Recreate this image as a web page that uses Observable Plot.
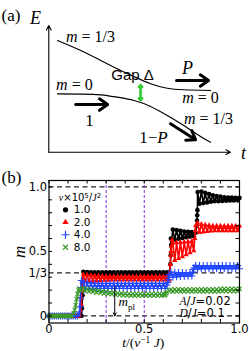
<!DOCTYPE html>
<html><head><meta charset="utf-8">
<script src="https://cdn.jsdelivr.net/npm/d3@7"></script>
<script src="https://cdn.jsdelivr.net/npm/@observablehq/plot@0.6"></script>
<style>body{margin:0;background:#fff;width:249px;height:351px;overflow:hidden}svg{display:block}</style>
</head><body><div id="chart"></div><script>
const SERIF = "Liberation Serif, DejaVu Serif, serif";
const SANS = "DejaVu Sans, sans-serif";

// ---------- Panel (a): schematic ----------
const upperCurve = [[0.48,8.82],[1.76,8.03],[2.86,7.24],[3.96,6.45],[4.69,5.97],[5.60,5.40],[6.52,5.05],[7.42,4.93],[8.90,4.87]];
const lowerCurve = [[0.48,4.61],[1.76,4.59],[2.86,4.53],[3.77,4.34],[4.69,4.08],[5.60,3.61],[6.52,2.90],[7.43,2.11],[8.35,1.24],[8.90,0.79]];
const axisArrows = [{x1:0,y1:0,x2:0,y2:10},{x1:0,y1:0,x2:10,y2:0}];
const processArrows = [{x1:7.03,y1:5.66,x2:8.79,y2:5.66},{x1:1.48,y1:3.76,x2:3.24,y2:3.76},{x1:6.70,y1:2.24,x2:8.08,y2:0.98}];
const gapArrow = [{x1:5.05,y1:4.70,x2:5.05,y2:5.30},{x1:5.05,y1:4.70,x2:5.05,y2:4.10}];
const schematicLabels = [
  {text:"(a)", x:-2.6, y:10.79, anchor:"start", size:17},
  {text:"*E*", x:-0.73, y:10.55, anchor:"middle", size:18},
  {text:"*t*", x:10.72, y:-0.10, anchor:"middle", size:18},
  {text:"*m* = 1/3", x:2.29, y:9.13, anchor:"middle", size:16},
  {text:"*m* = 0", x:1.41, y:5.34, anchor:"middle", size:16},
  {text:"*P*", x:7.63, y:6.61, anchor:"middle", size:18},
  {text:"*m* = 0", x:8.35, y:4.32, anchor:"middle", size:16},
  {text:"*m* = 1/3", x:8.79, y:2.66, anchor:"middle", size:16},
  {text:"1", x:2.24, y:2.50, anchor:"middle", size:17},
  {text:"1\u2212*P*", x:5.76, y:1.16, anchor:"middle", size:17}
];
const gapLabel = [{text:"Gap \u0394", x:4.61, y:6.05}];

// ---------- Panel (b): data ----------
const t = [
0.00,0.01,0.02,0.03,0.04,0.05,0.06,0.07,0.08,0.09,
0.10,0.11,0.12,0.13,0.14,0.15,0.16,0.17,0.18,0.19,
0.20,0.21,0.22,0.23,0.24,0.25,0.26,0.27,0.28,0.29,
0.30,0.31,0.32,0.33,0.34,0.35,0.36,0.37,0.38,0.39,
0.40,0.41,0.42,0.43,0.44,0.45,0.46,0.47,0.48,0.49,
0.50,0.51,0.52,0.53,0.54,0.55,0.56,0.57,0.58,0.59,
0.60,0.61,0.62,0.63,0.64,0.65,0.66,0.67,0.68,0.69,
0.70,0.71,0.72,0.73,0.74,0.75,0.76,0.77,0.78,0.79,
0.80,0.81,0.82,0.83,0.84,0.85,0.86,0.87,0.88,0.89,
0.90,0.91,0.92,0.93,0.94,0.95,0.96,0.97,0.98,0.99,
1.00];
const mV1 = [
0,0,0,0,0,0,0,0,0,0,
0,0,0,0,0,0,0,0,0.342,0.328,
0.340,0.326,0.338,0.326,0.338,0.326,0.338,0.326,0.338,0.326,
0.338,0.326,0.338,0.326,0.338,0.326,0.338,0.326,0.338,0.326,
0.338,0.326,0.338,0.326,0.338,0.326,0.338,0.326,0.338,0.326,
0.338,0.326,0.338,0.326,0.338,0.326,0.338,0.326,0.338,0.326,
0.338,0.326,0.338,0.326,0.600,0.670,0.590,0.665,0.598,0.660,
0.605,0.655,0.610,0.652,0.615,0.650,0.618,0.645,0.960,0.870,
0.965,0.875,0.955,0.880,0.945,0.885,0.935,0.890,0.930,0.890,
0.925,0.892,0.920,0.893,0.918,0.895,0.917,0.895,0.916,0.896,
0.915];
const mV2 = [
0,0,0,0,0,0,0,0,0,0,
0,0,0,0,0,0,0,0.140,0.320,0.265,
0.318,0.267,0.315,0.270,0.312,0.272,0.310,0.274,0.309,0.276,
0.308,0.277,0.306,0.279,0.306,0.279,0.306,0.279,0.306,0.279,
0.306,0.279,0.306,0.279,0.306,0.279,0.306,0.279,0.306,0.279,
0.306,0.279,0.306,0.279,0.306,0.279,0.306,0.279,0.306,0.279,
0.306,0.279,0.306,0.279,0.500,0.565,0.430,0.568,0.445,0.570,
0.460,0.573,0.475,0.576,0.490,0.580,0.505,0.700,0.722,0.648,
0.712,0.652,0.706,0.655,0.702,0.658,0.698,0.660,0.698,0.660,
0.698,0.660,0.698,0.660,0.698,0.660,0.698,0.660,0.698,0.660,
0.698];
const mV4 = [
0,0,0,0,0,0,0,0,0,0,
0,0,0,0,0,0,0.030,0.275,0.262,0.205,
0.258,0.208,0.255,0.210,0.252,0.213,0.252,0.213,0.252,0.213,
0.252,0.213,0.252,0.213,0.252,0.213,0.252,0.213,0.252,0.213,
0.252,0.213,0.252,0.213,0.252,0.213,0.252,0.213,0.252,0.213,
0.252,0.213,0.252,0.213,0.252,0.213,0.252,0.213,0.252,0.213,
0.252,0.213,0.240,0.318,0.340,0.300,0.338,0.303,0.337,0.305,
0.336,0.306,0.335,0.307,0.335,0.310,0.372,0.392,0.362,0.390,
0.366,0.390,0.366,0.390,0.366,0.390,0.366,0.390,0.366,0.390,
0.366,0.390,0.366,0.390,0.366,0.390,0.366,0.390,0.366,0.390,
0.366];
const mV8 = [
0,0,0,0,0,0,0,0,0,0,
0,0,0,0.020,0.085,0.170,0.212,0.198,0.215,0.195,
0.210,0.190,0.205,0.186,0.200,0.182,0.196,0.178,0.192,0.174,
0.188,0.171,0.184,0.168,0.181,0.165,0.178,0.163,0.176,0.161,
0.174,0.159,0.172,0.157,0.172,0.157,0.172,0.157,0.172,0.157,
0.172,0.157,0.172,0.157,0.172,0.157,0.172,0.157,0.172,0.157,
0.172,0.165,0.185,0.195,0.205,0.188,0.207,0.189,0.207,0.189,
0.207,0.189,0.207,0.189,0.207,0.189,0.207,0.189,0.207,0.189,
0.207,0.189,0.207,0.189,0.207,0.189,0.207,0.189,0.207,0.189,
0.210,0.192,0.210,0.192,0.210,0.192,0.210,0.192,0.210,0.192,
0.210];
// extra samples caught on the steep jumps
const jumpT1 = [0.173,0.176,0.178,0.637,0.639,0.641,0.776,0.777,0.778,0.779];
const jumpM1 = [0.06,0.16,0.26,0.40,0.47,0.55,0.70,0.74,0.78,0.82];
const jumpT2 = [0.166,0.169,0.172,0.175,0.634,0.637,0.640,0.643,0.646,0.765,0.768];
const jumpM2 = [0.04,0.09,0.20,0.26,0.33,0.40,0.47,0.54,0.59,0.60,0.66];
const jumpT4 = [0.162,0.165,0.168,0.624,0.627,0.630,0.755,0.758];
const jumpM4 = [0.07,0.14,0.22,0.26,0.28,0.30,0.34,0.36];
const jumpT8 = [0.135,0.145,0.155,0.605,0.615];
const jumpM8 = [0.045,0.13,0.20,0.158,0.175];

const speedLabels = ["1.0","2.0","4.0","8.0"];
const plateauLevels = [0, 1/3, 1];
const markTimes = [0.3, 0.5];
const mplArrow = [{t:0.345, from:0.225, to:0}];
const xTickValues = [0, 0.5, 1];
const xTickLabels = ["0","0.5","1.0"];
const yTickValues = [0, 1/3, 0.5, 1];
const yTickLabels = ["0","1/3","0.5","1.0"];
const minorTicks = [0,0.1,0.2,0.3,0.4,0.5,0.6,0.7,0.8,0.9,1.0];
const params = ["*A*/*J*=0.02", "*D*/*J*=0.1"];

// ---------- build ----------
const seriesColor = ["#000000", "#ff0000", "#1f45ff", "#3d9b2c"];
const seriesStyle = [
  {symbol:"circle", r:2.3, fill:seriesColor[0], stroke:"none"},
  {symbol:"triangle", r:2.0, fill:seriesColor[1], stroke:"none"},
  {symbol:"plus", r:2.4, fill:"none", stroke:seriesColor[2]},
  {symbol:"times", r:2.1, fill:"none", stroke:seriesColor[3]}
];
const seriesData = [
  [mV1, jumpT1, jumpM1], [mV2, jumpT2, jumpM2], [mV4, jumpT4, jumpM4], [mV8, jumpT8, jumpM8]
].map(([m, jt, jm]) => t.map((tt, i) => ({t: tt, m: m[i]}))
  .concat(jt.map((tt, i) => ({t: tt, m: jm[i]})))
  .sort((a, b) => a.t - b.t));

const pa = Plot.plot({
  width: 249, height: 168, margin: 0,
  x: {domain: [0, 10], range: [48.3, 230], axis: null},
  y: {domain: [0, 10], range: [151.7, 25], axis: null},
  style: {fontFamily: SERIF, background: "white", color: "black", overflow: "visible"},
  marks: [
    Plot.arrow(axisArrows, {x1:"x1", y1:"y1", x2:"x2", y2:"y2", stroke:"black", strokeWidth:1.1, headLength:7, headAngle:55}),
    Plot.line(upperCurve, {x: d => d[0], y: d => d[1], curve: "natural", stroke: "black", strokeWidth: 1.2}),
    Plot.line(lowerCurve, {x: d => d[0], y: d => d[1], curve: "natural", stroke: "black", strokeWidth: 1.2}),
    Plot.arrow(processArrows, {x1:"x1", y1:"y1", x2:"x2", y2:"y2", stroke:"black", strokeWidth:3, headLength:5, headAngle:70}),
    Plot.arrow(gapArrow, {x1:"x1", y1:"y1", x2:"x2", y2:"y2", stroke:"#33cc33", strokeWidth:2.6, headLength:5, headAngle:80}),
    ...schematicLabels.map(d => Plot.text([d], {x:"x", y:"y", text:"text", textAnchor: d.anchor, lineAnchor:"middle", fontSize: d.size, fontFamily: SERIF, fill:"black"})),
    Plot.text(gapLabel, {x:"x", y:"y", text:"text", textAnchor:"middle", lineAnchor:"middle", fontSize:15, fontFamily:"Liberation Sans, Arial, sans-serif", fill:"black"})
  ]
});

const W = 249, H = 183, ML = 48.5, MR = 10, MT = 12, MB = 28.5;
const innerW = W - ML - MR, innerH = H - MT - MB;
const TL = 3.5;

const pb = Plot.plot({
  width: W, height: H, marginLeft: ML, marginRight: MR, marginTop: MT, marginBottom: MB,
  x: {domain: [0, 1]},
  y: {domain: [-0.055, 1.05]},
  style: {fontFamily: SANS, fontSize: "11.5px", background: "white", color: "black", overflow: "visible"},
  marks: [
    Plot.ruleY(plateauLevels, {stroke: "#222", strokeWidth: 1.2, strokeDasharray: "5,3.5"}),
    Plot.ruleX(markTimes, {stroke: "#8b2be2", strokeWidth: 1, strokeDasharray: "3,2"}),
    ...seriesData.flatMap((data, k) => [
      Plot.line(data, {x: "t", y: "m", stroke: seriesColor[k], strokeWidth: 1.6}),
      Plot.dot(data, {x: "t", y: "m", ...seriesStyle[k], strokeWidth: 1.1})
    ]),
    Plot.arrow(mplArrow, {x1: "t", y1: "from", x2: "t", y2: "to", stroke: "black", strokeWidth: 1, headLength: 5, headAngle: 50}),
    Plot.frame({stroke: "black", strokeWidth: 1.2}),
    Plot.tickX(minorTicks, {x: d => d, insetTop: innerH - TL, stroke: "black"}),
    Plot.tickX(minorTicks, {x: d => d, insetBottom: innerH - TL, stroke: "black"}),
    Plot.tickY(minorTicks, {y: d => d, insetRight: innerW - TL, stroke: "black"}),
    Plot.tickY(minorTicks, {y: d => d, insetLeft: innerW - TL, stroke: "black"}),
    Plot.axisX({ticks: xTickValues, tickFormat: d => xTickLabels[xTickValues.indexOf(d)], tickSize: 0, tickPadding: 2, label: null}),
    Plot.axisY({ticks: yTickValues, tickFormat: d => yTickLabels[yTickValues.indexOf(d)], tickSize: 0, tickPadding: 2, label: null}),
    Plot.text(["(b)"], {frameAnchor: "top-left", dx: -47.5, dy: -3.3, textAnchor: "start", lineAnchor: "middle", fontFamily: SERIF, fontSize: 17}),
    Plot.text(["m"], {frameAnchor: "left", dx: -29.5, rotate: -90, textAnchor: "middle", lineAnchor: "middle", fontFamily: SERIF, fontStyle: "italic", fontSize: 17}),
    Plot.text(["*t*/(*v*^{\u22121} *J*)"], {frameAnchor: "bottom", dx: -1, dy: 20, textAnchor: "middle", lineAnchor: "middle", fontFamily: SERIF, fontSize: 13.5}),
    Plot.text(["*v*\u00d710^{5}/*J*^{2}"], {frameAnchor: "top-left", dx: 9.8, dy: 17.5, textAnchor: "start", lineAnchor: "middle", fontSize: 10}),
    ...speedLabels.map((lab, i) => Plot.dot([lab], {frameAnchor: "top-left", dx: 16.5, dy: 29.3 + 12.47 * i, ...seriesStyle[i], r: seriesStyle[i].r + 0.3, strokeWidth: 1.2})),
    ...speedLabels.map((lab, i) => Plot.text([lab], {frameAnchor: "top-left", dx: 24.8, dy: 29.3 + 12.47 * i, textAnchor: "start", lineAnchor: "middle", fontSize: 10.5})),
    ...params.map((p, i) => Plot.text([p], {frameAnchor: "bottom-left", dx: 130.5, dy: i === 0 ? -21.8 : -9.2, textAnchor: "start", lineAnchor: "middle", fontSize: 11.5})),
    Plot.text(["*m*_{pl}"], {frameAnchor: "bottom-left", dx: 69.5, dy: -20.8, textAnchor: "start", lineAnchor: "middle", fontFamily: SERIF, fontSize: 13})
  ]
});

const root = document.getElementById("chart");
root.append(pa, pb);

function rich(el0) {
  el0.querySelectorAll("text").forEach(el => {
    const s = el.textContent;
    if (!/[*^_]/.test(s)) return;
    const fs = parseFloat(getComputedStyle(el).fontSize) || 12;
    const segs = [];
    let italic = false, shift = 0, buf = "";
    const push = () => { if (buf) segs.push({text: buf, italic, shift}); buf = ""; };
    for (let i = 0; i < s.length; i++) {
      const c = s[i];
      if (c === "*") { push(); italic = !italic; }
      else if ((c === "^" || c === "_") && s[i + 1] === "{") { push(); shift = c === "^" ? 1 : -1; i++; }
      else if (c === "}" && shift) { push(); shift = 0; }
      else buf += c;
    }
    push();
    while (el.firstChild) el.removeChild(el.firstChild);
    let cur = 0;
    for (const g of segs) {
      const ts = document.createElementNS("http://www.w3.org/2000/svg", "tspan");
      ts.textContent = g.text;
      if (g.italic) { ts.setAttribute("font-style", "italic"); ts.setAttribute("font-family", SERIF); }
      const off = g.shift > 0 ? -0.33 * fs : g.shift < 0 ? 0.28 * fs : 0;
      if (off !== cur) { ts.setAttribute("dy", (off - cur).toFixed(2)); cur = off; }
      if (g.shift) ts.setAttribute("font-size", (0.7 * fs).toFixed(2));
      el.appendChild(ts);
    }
  });
}
rich(root);
</script></body></html>
